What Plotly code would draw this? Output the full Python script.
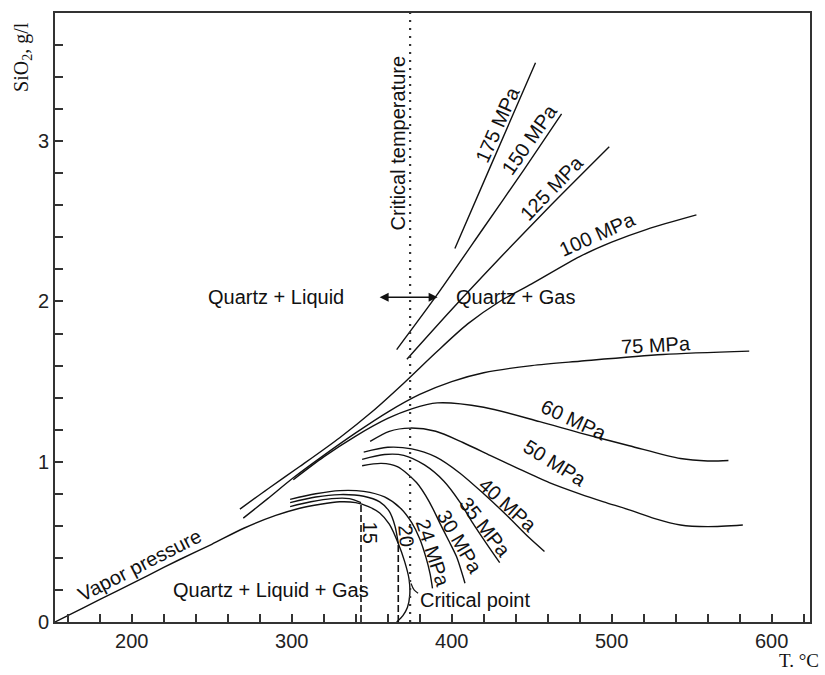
import plotly.graph_objects as go

# ---- data (T in °C, SiO2 in g/l) ----
t_vp = [152, 170, 190, 210, 230, 250, 270, 290, 305, 318, 330, 340, 348, 355, 361, 366.6, 370.5, 373.3, 373.8, 372.3, 369.5, 365.6]
s_vp = [0.0, 0.09, 0.19, 0.29, 0.39, 0.485, 0.585, 0.665, 0.71, 0.735, 0.75, 0.745, 0.72, 0.68, 0.61, 0.49, 0.38, 0.27, 0.17, 0.09, 0.04, 0.0]

t_15 = [299, 312, 325, 336, 343.3]
s_15 = [0.72, 0.75, 0.77, 0.77, 0.745]

t_20 = [299, 315, 330, 345, 355, 361, 364.5, 366.6]
s_20 = [0.745, 0.78, 0.795, 0.785, 0.75, 0.69, 0.6, 0.49]

t_24 = [299, 315, 330, 345, 358, 368, 375, 380, 384, 386.5, 388]
s_24 = [0.765, 0.80, 0.82, 0.815, 0.78, 0.71, 0.62, 0.52, 0.40, 0.30, 0.21]

t_30 = [344, 356, 366, 378, 386, 392.6, 398, 403, 408.3]
s_30 = [0.975, 0.99, 0.97, 0.87, 0.75, 0.617, 0.51, 0.408, 0.242]

t_35 = [344, 358, 370, 383, 395, 405, 413, 421, 430]
s_35 = [1.015, 1.045, 1.04, 0.98, 0.88, 0.75, 0.62, 0.50, 0.37]

t_40 = [345, 360, 375, 390, 405, 420, 435, 448, 458]
s_40 = [1.06, 1.09, 1.08, 1.03, 0.93, 0.80, 0.66, 0.53, 0.44]

t_50 = [349, 361, 374, 390, 407, 424, 441, 461, 480, 495, 511, 527, 543, 560, 582]
s_50 = [1.127, 1.19, 1.21, 1.19, 1.12, 1.04, 0.96, 0.87, 0.80, 0.75, 0.70, 0.645, 0.605, 0.595, 0.605]

t_60 = [301, 320, 340, 360, 375, 391, 420, 455, 480, 511, 543, 560, 573]
s_60 = [0.888, 1.03, 1.16, 1.27, 1.33, 1.367, 1.34, 1.25, 1.18, 1.10, 1.02, 1.005, 1.008]

t_75 = [269.7, 285, 301, 320, 340, 360, 380, 400, 420, 450, 480, 532, 586]
s_75 = [0.648, 0.77, 0.90, 1.04, 1.18, 1.31, 1.42, 1.50, 1.555, 1.60, 1.627, 1.669, 1.69]

t_100 = [267.6, 285, 305, 330, 350, 370, 390, 410, 430, 450, 480, 500, 522, 553]
s_100 = [0.704, 0.83, 0.97, 1.15, 1.31, 1.49, 1.68, 1.86, 2.0, 2.11, 2.28, 2.37, 2.45, 2.54]

t_125 = [372, 400, 430, 460, 498.5]
s_125 = [1.64, 1.95, 2.27, 2.58, 2.965]

t_150 = [365.6, 390, 420, 445, 468.7]
s_150 = [1.70, 2.03, 2.46, 2.82, 3.17]

t_175 = [402, 425, 452.4]
s_175 = [2.33, 2.86, 3.49]

t_crit = 374          # critical temperature line
t_dash15 = 343.3      # boiling at 15 MPa
s_dash15 = 0.745
t_dash20 = 366.6      # boiling at 20 MPa
s_dash20 = 0.49

curves = [
    (t_vp, s_vp), (t_15, s_15), (t_20, s_20), (t_24, s_24), (t_30, s_30),
    (t_35, s_35), (t_40, s_40), (t_50, s_50), (t_60, s_60), (t_75, s_75),
    (t_100, s_100), (t_125, s_125), (t_150, s_150), (t_175, s_175),
]

# labels: text, T, S, angle
label_text = ["175 MPa", "150 MPa", "125 MPa", "100 MPa", "75 MPa", "60 MPa", "50 MPa",
              "40 MPa", "35 MPa", "30 MPa", "24 MPa", "20", "15", "Critical point",
              "Quartz + Liquid + Gas", "Vapor pressure", "Critical temperature",
              "Quartz + Liquid", "Quartz + Gas"]
label_t = [428.9, 448.9, 462.4, 491.4, 528, 476.4, 464.5, 435.1, 420.75, 405.1, 388.25,
           371.2, 348.9, 414.5, 287, 205, 366.2, 290, 440]
label_s = [3.106, 3.0125, 2.71, 2.42, 1.73, 1.26, 0.99, 0.73, 0.59, 0.5, 0.43,
           0.54, 0.558, 0.1375, 0.2, 0.356, 2.99, 2.025, 2.025]
label_angle = [-66, -55, -46, -24, -3, 25, 32, 42, 52, 60, 72, 85, 90, 0, 0, -27, -90, 0, 0]

FONT = "Liberation Sans, Arial, sans-serif"
SERIF = "Liberation Serif, Times New Roman, serif"

fig = go.Figure()
for t, s in curves:
    fig.add_trace(go.Scatter(x=t, y=s, mode="lines", line=dict(color="#111", width=1.4, shape="spline", smoothing=0.8),
                             showlegend=False, hoverinfo="skip"))

# critical temperature (dotted)
fig.add_trace(go.Scatter(x=[t_crit, t_crit], y=[0, 3.8], mode="lines",
                         line=dict(color="#333", width=2.2, dash="2px,6px"), showlegend=False))
# boiling drops (dashed)
fig.add_trace(go.Scatter(x=[t_dash15, t_dash15], y=[0, s_dash15], mode="lines",
                         line=dict(color="#111", width=1.6, dash="7px,3px"), showlegend=False))
fig.add_trace(go.Scatter(x=[t_dash20, t_dash20], y=[0, s_dash20], mode="lines",
                         line=dict(color="#111", width=1.6, dash="7px,3px"), showlegend=False))
# leader to critical point
fig.add_trace(go.Scatter(x=[374.6, 376.5, 379], y=[0.24, 0.2, 0.18], mode="lines",
                         line=dict(color="#111", width=1.2, shape="spline"), showlegend=False))

for txt, tx, sy, ang in zip(label_text, label_t, label_s, label_angle):
    fig.add_annotation(x=tx, y=sy, text=txt, textangle=ang, showarrow=False,
                       font=dict(family=FONT, size=20, color="#111"), xanchor="center", yanchor="middle")

# double arrow
fig.add_annotation(x=391.2, y=2.027, ax=353.7, ay=2.027, axref="x", ayref="y", xref="x", yref="y",
                   showarrow=True, arrowhead=2, arrowside="end+start", arrowsize=1.2, arrowwidth=1.5,
                   arrowcolor="#111", text=" ", font=dict(size=2))

# axis titles
fig.add_annotation(xref="paper", yref="paper", x=-0.0424, y=0.9278, text="SiO<sub>2</sub>, g/l",
                   textangle=-90, showarrow=False, font=dict(family=SERIF, size=20, color="#111"),
                   xanchor="center", yanchor="middle")
fig.add_annotation(xref="paper", yref="paper", x=1.014, y=-0.064, text="T. °C",
                   showarrow=False, font=dict(family=SERIF, size=19, color="#111"),
                   xanchor="right", yanchor="middle")

axis_common = dict(showline=True, linecolor="#333", linewidth=2, mirror=True, ticks="inside",
                   ticklen=8, tickwidth=1.5, tickcolor="#333", showgrid=False, zeroline=False,
                   tickfont=dict(family=FONT, size=20, color="#222"))
fig.update_xaxes(range=[152, 624], dtick=100, tick0=0,
                 minor=dict(dtick=20, ticks="inside", ticklen=8, tickwidth=1.5, tickcolor="#333"),
                 **axis_common)
fig.update_yaxes(range=[0, 3.8], dtick=1, tick0=0,
                 minor=dict(dtick=0.2, ticks="inside", ticklen=8, tickwidth=1.5, tickcolor="#333"),
                 **axis_common)

fig.update_layout(width=825, height=675, margin=dict(l=55, r=15, t=13, b=53),
                  paper_bgcolor="white", plot_bgcolor="white", showlegend=False)

fig.write_html("out.html")
